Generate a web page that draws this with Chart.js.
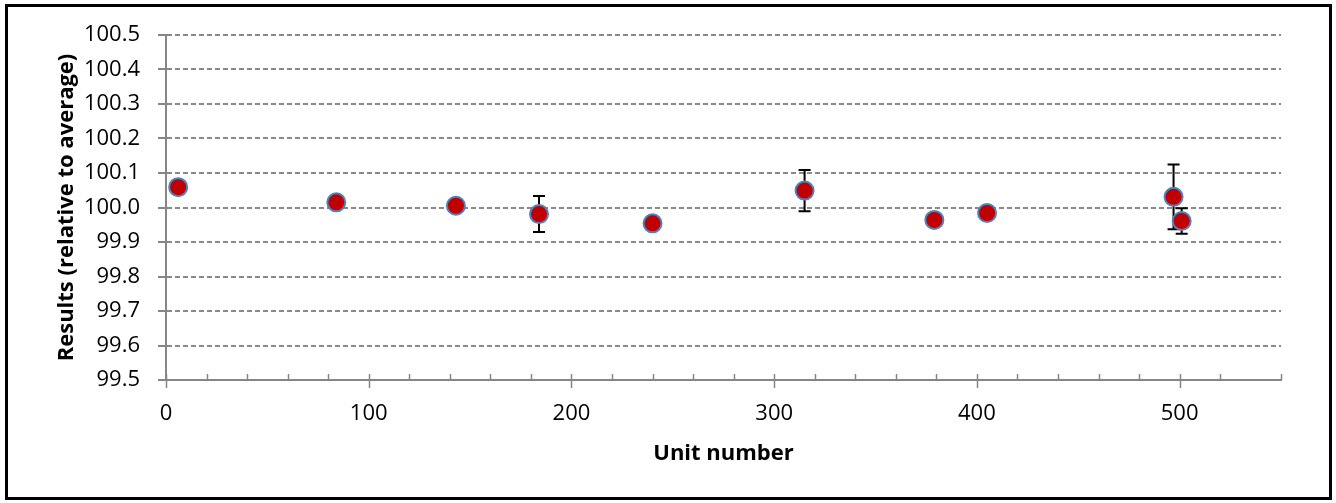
<!DOCTYPE html>
<html>
<head>
<meta charset="utf-8">
<script src="https://cdn.jsdelivr.net/npm/chart.js@4/dist/chart.umd.min.js"></script>
<style>
    body { margin: 0; background: #fff; }
    #wrap { position: relative; width: 1336px; height: 503px; }
    #frame {
        position: absolute; left: 5px; top: 4px; width: 1327px; height: 496px;
        box-sizing: border-box; border: 3px solid #000; pointer-events: none;
    }
</style>
</head>
<body>
<div id="wrap">
    <canvas id="chart" width="1336" height="503"></canvas>
    <div id="frame"></div>
</div>
<script>
// unit measurements, relative to average, with uncertainty (0 = no bar)
const unitNumber = [6, 84, 143, 184, 240, 315, 379, 405, 497, 501];
const result = [100.059, 100.015, 100.005, 99.981, 99.954, 100.049, 99.964, 99.984, 100.031, 99.961];
const uncertainty = [0, 0, 0, 0.052, 0, 0.06, 0, 0, 0.094, 0.037];

const yTicks = [99.5, 99.6, 99.7, 99.8, 99.9, 100.0, 100.1, 100.2, 100.3, 100.4, 100.5];
const xMajor = [0, 100, 200, 300, 400, 500];
const xMinorStep = 20;
const xMax = 550;

const axisGrey = '#868686';
const font = 'Open Sans';

// error bars go under the markers
const errorBars = {
    id: 'errorBars',
    beforeDatasetsDraw(chart) {
        const ctx = chart.ctx;
        const x = chart.scales.x, y = chart.scales.y;
        ctx.save();
        ctx.strokeStyle = '#000';
        ctx.lineWidth = 2;
        unitNumber.forEach((u, i) => {
            const e = uncertainty[i];
            if (!e) return;
            const px = x.getPixelForValue(u);
            const top = y.getPixelForValue(result[i] + e);
            const bot = y.getPixelForValue(result[i] - e);
            ctx.beginPath();
            ctx.moveTo(px, top); ctx.lineTo(px, bot);
            ctx.moveTo(px - 6, top); ctx.lineTo(px + 6, top);
            ctx.moveTo(px - 6, bot); ctx.lineTo(px + 6, bot);
            ctx.stroke();
        });
        ctx.restore();
    }
};

// excel-style x ticks: majors cross the axis, minors point up
const xTickMarks = {
    id: 'xTickMarks',
    afterDraw(chart) {
        const ctx = chart.ctx;
        const x = chart.scales.x;
        const base = chart.chartArea.bottom;
        ctx.save();
        ctx.strokeStyle = axisGrey;
        ctx.lineWidth = 1.5;
        ctx.beginPath();
        x.ticks.forEach(t => {
            const px = Math.round(x.getPixelForValue(t.value)) + 0.5;
            const major = xMajor.includes(t.value);
            ctx.moveTo(px, base - 6);
            ctx.lineTo(px, major ? base + 8 : base);
        });
        ctx.stroke();
        ctx.restore();
    }
};

new Chart(document.getElementById('chart'), {
    type: 'scatter',
    data: {
        datasets: [{
            data: unitNumber.map((u, i) => ({ x: u, y: result[i] })),
            backgroundColor: '#C00000',
            borderColor: '#4F81BD',
            borderWidth: 2,
            pointRadius: 9,
            pointHoverRadius: 9
        }]
    },
    options: {
        responsive: false,
        animation: false,
        events: [],
        layout: { padding: { left: 0, top: 35, right: 55, bottom: 0 } },
        plugins: { legend: { display: false }, tooltip: { enabled: false } },
        scales: {
            x: {
                type: 'linear',
                min: 0,
                max: xMax,
                afterFit: s => { s.height = 123; },
                grid: { drawOnChartArea: false, tickLength: 8, tickColor: 'rgba(0,0,0,0)' },
                border: { color: axisGrey, width: 2 },
                ticks: {
                    stepSize: xMinorStep,
                    autoSkip: false,
                    maxRotation: 0,
                    padding: 13,
                    color: '#000',
                    font: { family: font, size: 22 },
                    callback: v => xMajor.includes(v) ? String(v) : ''
                },
                title: {
                    display: true,
                    text: 'Unit number',
                    color: '#000',
                    font: { family: font, size: 22, weight: 'bold' },
                    padding: { top: 0, bottom: 36 }
                }
            },
            y: {
                min: 99.5,
                max: 100.5,
                afterFit: s => { s.width = 166; },
                afterBuildTicks: s => { s.ticks = yTicks.map(v => ({ value: v })); },
                grid: { color: '#8a8a8a', lineWidth: 2, tickLength: 8, tickColor: axisGrey },
                border: { color: axisGrey, width: 2, dash: [5, 3] },
                ticks: {
                    padding: 18,
                    color: '#000',
                    font: { family: font, size: 22 },
                    callback: v => v.toFixed(1)
                },
                title: {
                    display: true,
                    text: 'Results (relative to average)',
                    color: '#000',
                    font: { family: font, size: 22, weight: 'bold' },
                    padding: { top: 54, bottom: 0 }
                }
            }
        }
    },
    plugins: [errorBars, xTickMarks]
});
</script>
</body>
</html>
